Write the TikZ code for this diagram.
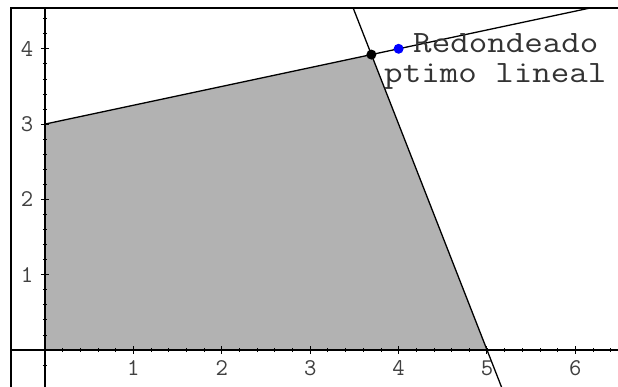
\documentclass[tikz,border=0pt]{standalone}
\begin{document}
\begin{tikzpicture}[x=88.4pt,y=75.3pt,
  frameline/.style={line width=2.2pt,black},
  axisline/.style={line width=1.2pt,black},
  conline/.style={line width=1.3pt,black},
  feasible/.style={fill=black!30},
  dotnode/.style={circle,inner sep=0pt,minimum size=10pt},
  ticklabel/.style={font=\ttfamily\fontsize{24}{24}\selectfont,text=black!75},
  mainlabel/.style={font=\ttfamily\fontsize{31}{31}\selectfont,xscale=1.16,text=black!80,inner sep=0pt,anchor=west}]
\useasboundingbox (-0.509,-0.491) rectangle (6.482,4.648);
\fill[white] (-0.509,-0.491) rectangle (6.482,4.648);
% feasible region
\coordinate (O) at (0,0);
\coordinate (A) at (5,0);
\coordinate (B) at (48/13,51/13);
\coordinate (C) at (0,3);
\fill[feasible] (O)--(A)--(B)--(C)--cycle;
% frame
\coordinate (FL1) at (-0.385,-0.491);
\coordinate (FL2) at (-0.385,4.542);
\coordinate (FT2) at (6.482,4.542);
\draw[frameline] (FL1)--(FL2)--(FT2);
% axes
\coordinate (XL) at (-0.385,0);
\coordinate (XR) at (6.482,0);
\coordinate (YB) at (0,-0.491);
\coordinate (YT) at (0,4.542);
\draw[axisline] (XL)--(XR);
\draw[axisline] (YB)--(YT);
\foreach \i in {0,...,32}{\draw[line width=0.8pt] (\i*0.2,0) ++(0,-2pt) -- ++(0,4pt);}
\foreach \i in {-1,...,22}{\draw[line width=0.8pt] (0,\i*0.2) ++(-2pt,0) -- ++(4pt,0);}
\foreach \i in {1,...,6}{\draw[line width=1pt] (\i,0) ++(0,-4pt) -- ++(0,8pt);
  \node[ticklabel] (xl\i) at (\i,-0.239) {\i};}
\foreach \i in {1,...,4}{\draw[line width=1pt] (0,\i) ++(-4pt,0) -- ++(8pt,0);
  \node[ticklabel] (yl\i) at (-0.204,\i) {\i};}
% constraint lines
\coordinate (L1E) at (6.168,4.542);
\coordinate (L2T) at (3.486,4.542);
\coordinate (L2B) at (5.164,-0.491);
\draw[conline] (C)--(L1E);
\draw[conline] (L2T)--(L2B);
% points
\node[dotnode,fill=black] (opt) at (B) {};
\node[dotnode,fill=blue] (red) at (4,4) {};
\node[mainlabel] (redlab) at (4.163,4.07) {Redondeado};
\node[mainlabel] (optlab) at (3.835,3.63) {ptimo lineal};
\end{tikzpicture}
\end{document}
